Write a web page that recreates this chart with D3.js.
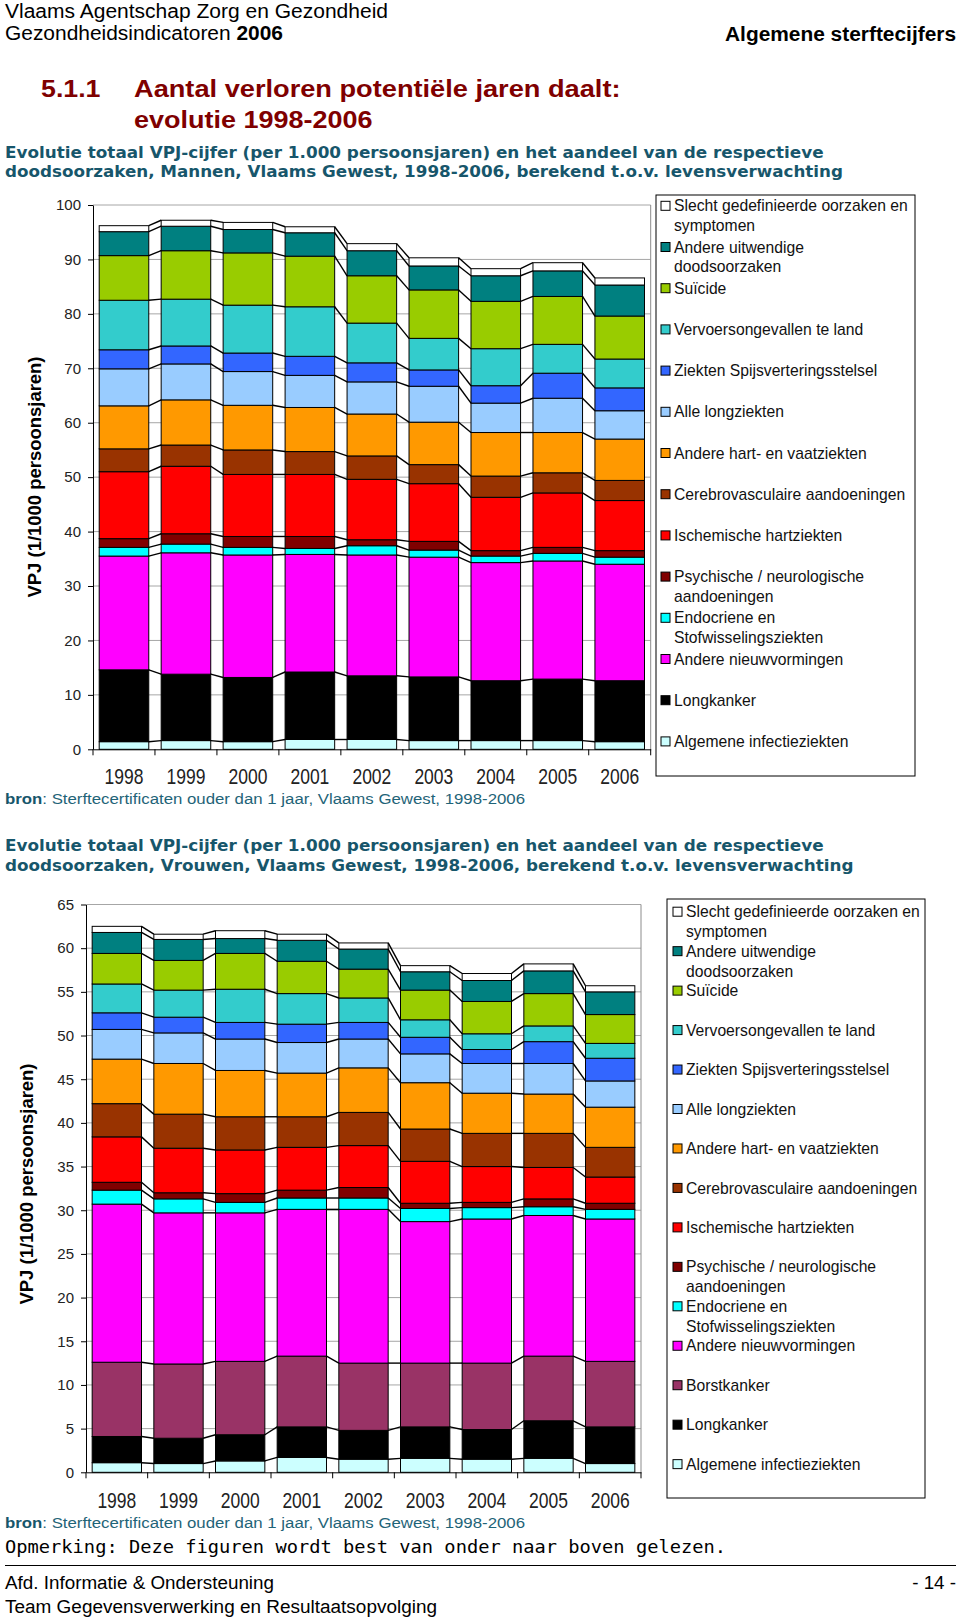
<!DOCTYPE html>
<html><head><meta charset="utf-8">
<script src="https://cdn.jsdelivr.net/npm/d3@7"></script>
<style>
body{margin:0;background:#fff;}
svg{display:block;}
text{font-family:"Liberation Sans",Arial,Helvetica,sans-serif;}
</style>
</head><body>
<svg id="page" width="960" height="1621"></svg>
<script>
// ---------- DATA ----------
const years = ["1998","1999","2000","2001","2002","2003","2004","2005","2006"];

// Mannen (bottom -> top of stack)
const menInfectie   = [1.4, 1.6, 1.4, 1.8, 1.8, 1.6, 1.6, 1.6, 1.4];
const menLongkanker = [13.2,12.2,11.8,12.4,11.7,11.7,11.0,11.3,11.2];
const menNieuwv     = [20.9,22.3,22.5,21.6,22.2,22.0,21.7,21.7,21.4];
const menEndocr     = [1.6, 1.6, 1.4, 1.1, 1.7, 1.3, 1.2, 1.4, 1.3];
const menPsych      = [1.6, 1.9, 2.0, 2.2, 1.1, 1.6, 1.0, 1.1, 1.2];
const menIschem     = [12.3,12.4,11.4,11.4,11.1,10.6,9.8,10.0,9.2];
const menCerebro    = [4.2, 3.9, 4.5, 4.2, 4.3, 3.5, 3.9, 3.7, 3.7];
const menHartVaat   = [7.9, 8.3, 8.2, 8.1, 7.7, 7.8, 8.0, 7.4, 7.6];
const menLongz      = [6.8, 6.6, 6.2, 5.9, 5.9, 6.6, 5.4, 6.3, 5.2];
const menSpijsv     = [3.5, 3.3, 3.4, 3.5, 3.5, 3.0, 3.2, 4.6, 4.2];
const menVervoer    = [9.1, 8.6, 8.8, 9.1, 7.3, 5.8, 6.8, 5.3, 5.3];
const menSuicide    = [8.2, 8.9, 9.6, 9.3, 8.7, 8.9, 8.7, 8.8, 7.9];
const menUitwendig  = [4.4, 4.5, 4.3, 4.3, 4.6, 4.4, 4.7, 4.7, 5.7];
const menSlecht     = [1.1, 1.1, 1.3, 1.1, 1.3, 1.5, 1.3, 1.5, 1.3];

// Vrouwen (bottom -> top of stack)
const womInfectie   = [1.1, 1.0, 1.3, 1.7, 1.5, 1.6, 1.5, 1.6, 1.0];
const womLongkanker = [3.0, 2.9, 3.0, 3.5, 3.3, 3.6, 3.4, 4.3, 4.2];
const womBorst      = [8.5, 8.5, 8.4, 8.1, 7.7, 7.3, 7.6, 7.4, 7.5];
const womNieuwv     = [18.1,17.3,17.0,16.8,17.6,16.2,16.5,16.1,16.3];
const womEndocr     = [1.6, 1.6, 1.2, 1.3, 1.3, 1.5, 1.3, 1.0, 1.1];
const womPsych      = [0.9, 0.7, 1.0, 0.9, 1.2, 0.6, 0.6, 0.9, 0.7];
const womIschem     = [5.2, 5.1, 5.0, 4.9, 4.8, 4.8, 4.1, 3.6, 3.0];
const womCerebro    = [3.8, 3.9, 3.8, 3.5, 3.8, 3.7, 3.8, 3.9, 3.4];
const womHartVaat   = [5.1, 5.8, 5.3, 5.0, 5.1, 5.3, 4.6, 4.5, 4.6];
const womLongz      = [3.4, 3.5, 3.6, 3.5, 3.3, 3.3, 3.4, 3.5, 3.0];
const womSpijsv     = [1.9, 1.8, 1.9, 2.1, 1.9, 1.9, 1.6, 2.5, 2.6];
const womVervoer    = [3.3, 3.1, 3.8, 3.5, 2.8, 2.0, 1.8, 1.8, 1.7];
const womSuicide    = [3.5, 3.4, 4.1, 3.7, 3.3, 3.4, 3.7, 3.7, 3.3];
const womUitwendig  = [2.4, 2.4, 1.7, 2.4, 2.3, 2.1, 2.4, 2.6, 2.6];
const womSlecht     = [0.7, 0.6, 0.9, 0.7, 0.7, 0.7, 0.8, 0.8, 0.7];

// series labels (legend lines) bottom -> top
const menLabels = [
  ["Algemene infectieziekten"], ["Longkanker"], ["Andere nieuwvormingen"],
  ["Endocriene en","Stofwisselingsziekten"], ["Psychische / neurologische","aandoeningen"],
  ["Ischemische hartziekten"], ["Cerebrovasculaire aandoeningen"], ["Andere hart- en vaatziekten"],
  ["Alle longziekten"], ["Ziekten Spijsverteringsstelsel"], ["Vervoersongevallen te land"],
  ["Suïcide"], ["Andere uitwendige","doodsoorzaken"], ["Slecht gedefinieerde oorzaken en","symptomen"]
];
const womLabels = [
  ["Algemene infectieziekten"], ["Longkanker"], ["Borstkanker"], ["Andere nieuwvormingen"],
  ["Endocriene en","Stofwisselingsziekten"], ["Psychische / neurologische","aandoeningen"],
  ["Ischemische hartziekten"], ["Cerebrovasculaire aandoeningen"], ["Andere hart- en vaatziekten"],
  ["Alle longziekten"], ["Ziekten Spijsverteringsstelsel"], ["Vervoersongevallen te land"],
  ["Suïcide"], ["Andere uitwendige","doodsoorzaken"], ["Slecht gedefinieerde oorzaken en","symptomen"]
];
const menColors = ["#ccffff","#000000","#ff00ff","#00ffff","#800000","#ff0000","#993300","#ff9900",
                   "#99ccff","#3366ff","#33cccc","#99cc00","#008080","#ffffff"];
const womColors = ["#ccffff","#000000","#993366","#ff00ff","#00ffff","#800000","#ff0000","#993300","#ff9900",
                   "#99ccff","#3366ff","#33cccc","#99cc00","#008080","#ffffff"];
const menValues = [menInfectie,menLongkanker,menNieuwv,menEndocr,menPsych,menIschem,menCerebro,menHartVaat,
                   menLongz,menSpijsv,menVervoer,menSuicide,menUitwendig,menSlecht];
const womValues = [womInfectie,womLongkanker,womBorst,womNieuwv,womEndocr,womPsych,womIschem,womCerebro,
                   womHartVaat,womLongz,womSpijsv,womVervoer,womSuicide,womUitwendig,womSlecht];
const menTicks = [0,10,20,30,40,50,60,70,80,90,100];
const womTicks = [0,5,10,15,20,25,30,35,40,45,50,55,60,65];

// ---------- DRAW ----------
const svg = d3.select("#page");
const TEAL = "#17566b";

function txt(x, y, str, o={}) {
  const t = svg.append("text").attr("x", x).attr("y", y)
    .attr("font-size", o.size || 16)
    .attr("font-weight", o.weight || "normal")
    .attr("fill", o.fill || "#000")
    .attr("text-anchor", o.anchor || "start");
  if (o.family) t.style("font-family", o.family);
  if (o.len) t.attr("textLength", o.len).attr("lengthAdjust", "spacingAndGlyphs");
  if (str !== null) t.text(str);
  return t;
}

// header
txt(5, 18.3, "Vlaams Agentschap Zorg en Gezondheid", {size:20, len:383});
const h2 = txt(5, 39.8, null, {size:20, len:278});
h2.append("tspan").text("Gezondheidsindicatoren ");
h2.append("tspan").attr("font-weight","bold").text("2006");
txt(956, 40.6, "Algemene sterftecijfers", {size:20, weight:"bold", anchor:"end", len:231});

// title
const RED = "#7f0000";
txt(41, 96.5, "5.1.1", {size:24, weight:"bold", fill:RED, len:59.5});
txt(134, 96.5, "Aantal verloren potentiële jaren daalt:", {size:24, weight:"bold", fill:RED, len:486.5});
txt(134, 127.5, "evolutie 1998-2006", {size:24, weight:"bold", fill:RED, len:238.5});

const SUBF = "'DejaVu Sans', Verdana, sans-serif";
txt(5, 157.6, "Evolutie totaal VPJ-cijfer (per 1.000 persoonsjaren) en het aandeel van de respectieve",
    {size:15.5, weight:"bold", fill:TEAL, family:SUBF, len:818.6});
txt(5, 177.2, "doodsoorzaken, Mannen, Vlaams Gewest, 1998-2006, berekend t.o.v. levensverwachting",
    {size:15.5, weight:"bold", fill:TEAL, family:SUBF, len:838});
txt(5, 851.0, "Evolutie totaal VPJ-cijfer (per 1.000 persoonsjaren) en het aandeel van de respectieve",
    {size:15.5, weight:"bold", fill:TEAL, family:SUBF, len:818.6});
txt(5, 870.7, "doodsoorzaken, Vrouwen, Vlaams Gewest, 1998-2006, berekend t.o.v. levensverwachting",
    {size:15.5, weight:"bold", fill:TEAL, family:SUBF, len:848.5});

function bron(yb) {
  const t = txt(5, yb, null, {size:15.5, fill:"#1f6478", len:520});
  t.append("tspan").attr("font-weight","bold").attr("fill",TEAL).text("bron");
  t.append("tspan").text(": Sterftecertificaten ouder dan 1 jaar, Vlaams Gewest, 1998-2006");
}
bron(804.3);
bron(1527.5);

txt(5, 1552.5, "Opmerking: Deze figuren wordt best van onder naar boven gelezen.",
    {size:18.5, family:"'DejaVu Sans Mono', monospace", len:721});
svg.append("line").attr("x1",5).attr("x2",956).attr("y1",1565.5).attr("y2",1565.5)
   .attr("stroke","#000").attr("stroke-width",1);
txt(5, 1588.8, "Afd. Informatie & Ondersteuning", {size:18.8, len:269});
txt(956, 1588.8, "- 14 -", {size:18.8, anchor:"end"});
txt(5, 1612.6, "Team Gegevensverwerking en Resultaatsopvolging", {size:18.8, len:432});

// chart
function drawChart(cfg) {
  const g = svg.append("g");
  const n = cfg.values.length;
  const rows = years.map((yr, i) => {
    const r = {year: yr};
    cfg.values.forEach((arr, k) => r[k] = arr[i]);
    return r;
  });
  const stack = d3.stack().keys(d3.range(n))(rows);
  const x = d3.scaleBand().domain(years).range([cfg.left, cfg.right]).paddingInner(0.2).paddingOuter(0.1);
  const y = d3.scaleLinear().domain([0, cfg.yMax]).range([cfg.bottom, cfg.top]);
  const bw = x.bandwidth();
  const step = x.step();

  // gridlines
  g.append("g").selectAll("line").data(cfg.ticks.filter(t => t > 0)).join("line")
    .attr("x1", cfg.left).attr("x2", cfg.right)
    .attr("y1", d => y(d)).attr("y2", d => y(d))
    .attr("stroke", "#a6a6a6").attr("stroke-width", 1);
  g.append("line").attr("x1", cfg.right).attr("x2", cfg.right)
    .attr("y1", y(cfg.yMax)).attr("y2", cfg.bottom)
    .attr("stroke", "#8c8c8c").attr("stroke-width", 1);

  // bars
  stack.forEach((layer, k) => {
    g.append("g").selectAll("rect").data(layer).join("rect")
      .attr("x", d => x(d.data.year))
      .attr("y", d => y(d[1]))
      .attr("width", bw)
      .attr("height", d => y(d[0]) - y(d[1]))
      .attr("fill", cfg.colors[k])
      .attr("stroke", "#000").attr("stroke-width", 1);
  });
  // series lines
  stack.forEach(layer => {
    const segs = d3.pairs(layer);
    g.append("g").selectAll("line").data(segs).join("line")
      .attr("x1", d => x(d[0].data.year) + bw)
      .attr("y1", d => y(d[0][1]))
      .attr("x2", d => x(d[1].data.year))
      .attr("y2", d => y(d[1][1]))
      .attr("stroke", "#000").attr("stroke-width", 1.4);
  });

  // y axis
  const ya = g.append("g").attr("transform", `translate(${cfg.left},0)`)
    .call(d3.axisLeft(y).tickValues(cfg.ticks).tickSize(5).tickSizeOuter(0).tickPadding(7));
  ya.select(".domain").attr("stroke", "#000");
  ya.selectAll(".tick line").attr("stroke", "#000");
  ya.selectAll(".tick text").attr("font-size", 15).attr("fill", "#222")
    .style("font-family", "'Liberation Sans', Arial, sans-serif");

  // x axis
  const xa = g.append("g").attr("transform", `translate(0,${cfg.bottom})`)
    .call(d3.axisBottom(x).tickSize(0).tickSizeOuter(0));
  xa.select(".domain").attr("stroke", "#000");
  const sy = 1.28;
  xa.selectAll(".tick text").attr("font-size", 17.5).attr("fill", "#222")
    .style("font-family", "'Liberation Sans', Arial, sans-serif")
    .attr("dy", 0).attr("y", cfg.labelOffset / sy)
    .attr("transform", `scale(1,${sy})`);
  xa.append("g").selectAll("line").data(d3.range(years.length + 1)).join("line")
    .attr("x1", i => cfg.left + i * step).attr("x2", i => cfg.left + i * step)
    .attr("y1", 0).attr("y2", 6).attr("stroke", "#000");

  // y title
  g.append("text")
    .attr("transform", `translate(${cfg.titleX},${cfg.titleY}) rotate(-90)`)
    .attr("text-anchor", "middle").attr("font-size", 18).attr("font-weight", "bold")
    .attr("textLength", 241).attr("lengthAdjust", "spacingAndGlyphs")
    .text("VPJ (1/1000 persoonsjaren)");

  // legend
  const L = cfg.legend;
  g.append("rect").attr("x", L.x).attr("y", L.y).attr("width", L.w).attr("height", L.h)
    .attr("fill", "#fff").attr("stroke", "#000").attr("stroke-width", 1);
  const clipId = "clip" + cfg.id;
  svg.append("clipPath").attr("id", clipId).append("rect")
    .attr("x", L.x).attr("y", L.y).attr("width", L.w - 1).attr("height", L.h);
  const order = d3.range(n).reverse();
  const lg = g.append("g").attr("clip-path", `url(#${clipId})`);
  order.forEach((k, i) => {
    const cy = L.first + i * L.spacing;
    lg.append("rect").attr("x", L.mx).attr("y", cy - 4.5).attr("width", 9).attr("height", 9)
      .attr("fill", cfg.colors[k]).attr("stroke", "#000").attr("stroke-width", 1);
    cfg.labels[k].forEach((line, j) => {
      lg.append("text").attr("x", L.tx).attr("y", cy + 5.6 + j * L.lineGap)
        .attr("font-size", 15.7).attr("fill", "#111").text(line);
    });
  });
}

drawChart({
  id: "m", values: menValues, colors: menColors, labels: menLabels,
  left: 93, right: 650.7, top: 205, bottom: 749.3, yMax: 100, ticks: menTicks,
  labelOffset: 35, titleX: 41, titleY: 477,
  legend: {x: 656, y: 195, w: 259, h: 581, mx: 661, tx: 674, first: 205.8, spacing: 41.2, lineGap: 19.6}
});
drawChart({
  id: "w", values: womValues, colors: womColors, labels: womLabels,
  left: 86, right: 641, top: 904.5, bottom: 1472.3, yMax: 65, ticks: womTicks,
  labelOffset: 35.3, titleX: 33, titleY: 1184,
  legend: {x: 667, y: 899, w: 258, h: 599, mx: 673, tx: 686, first: 911.7, spacing: 39.46, lineGap: 19.8}
});
</script>
</body></html>
